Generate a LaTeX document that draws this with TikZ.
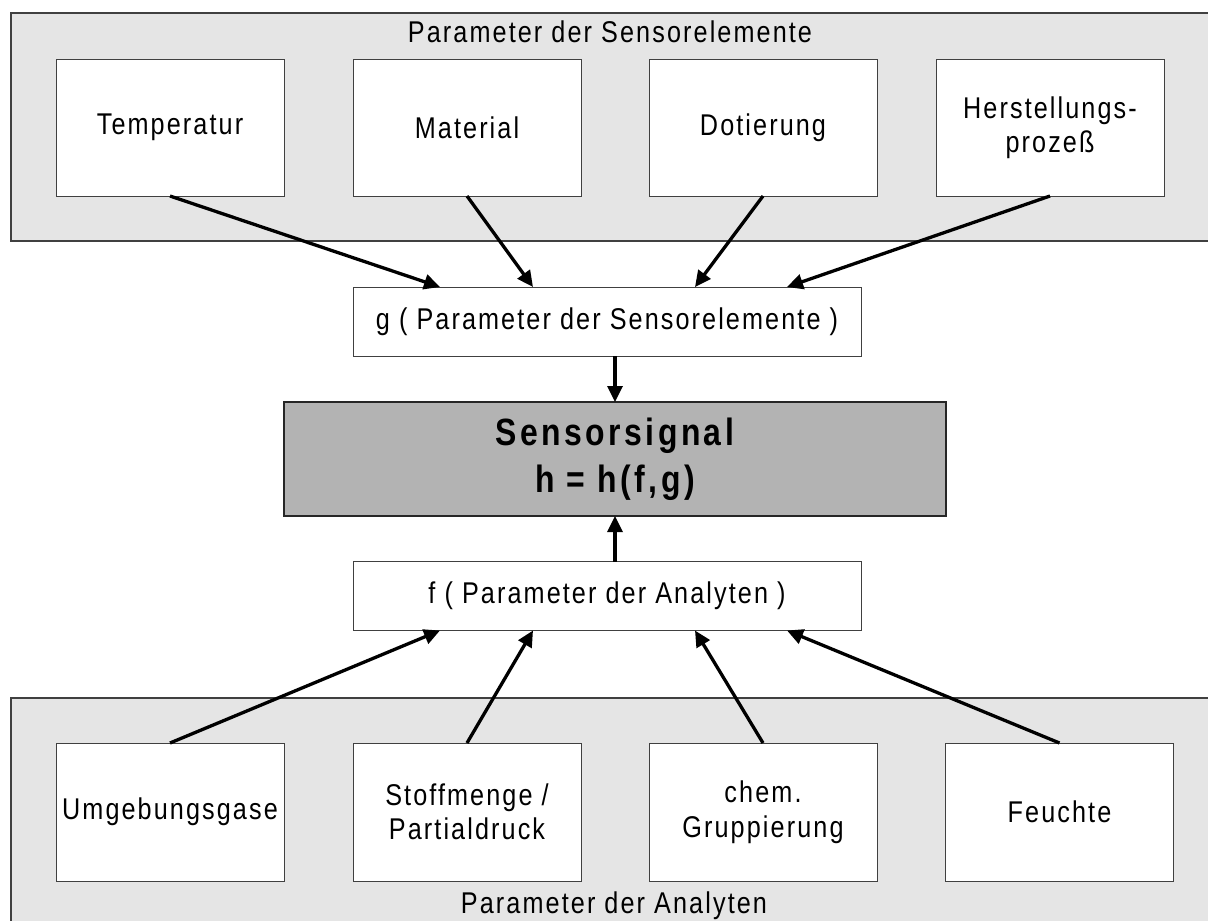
\documentclass[tikz,border=0pt]{standalone}
\usepackage{fontspec}
\setmainfont{Liberation Sans}[FakeStretch=0.84,LetterSpace=7]
\usetikzlibrary{arrows.meta,calc}
\definecolor{panelgray}{HTML}{E5E5E5}
\definecolor{siggray}{HTML}{B3B3B3}
\definecolor{edgegray}{HTML}{404040}
\tikzset{
  panelfill/.style={fill=panelgray},
  paneledge/.style={draw=edgegray, line width=1.2pt},
  txt/.style={font=\fontsize{30}{34.5}\selectfont},
  pbox/.style={txt, draw=edgegray, line width=1pt, fill=white, minimum width=228pt,
    minimum height=137pt, inner sep=0pt, outer sep=0pt, align=center},
  fgbox/.style={txt, draw=edgegray, line width=1pt, fill=white, minimum width=508pt,
    minimum height=69pt, inner sep=0pt, outer sep=0pt},
  sigbox/.style={draw=black!85, line width=1.2pt, fill=siggray, minimum width=662pt,
    minimum height=114pt, inner sep=0pt, outer sep=0pt, align=center,
    font=\fontsize{38}{47}\selectfont\bfseries\addfontfeatures{LetterSpace=9}},
  ptitle/.style={txt, inner sep=0pt, anchor=base},
  arr/.style={line width=3.3pt, -{Triangle[length=16pt,width=15pt]}},
}
\begin{document}
\begin{tikzpicture}[x=1pt,y=-1pt]
\useasboundingbox (0,0) rectangle (1208,921);
% panels
\fill[panelfill] (11,13) rectangle (1208,241);
\draw[paneledge] (1208,13) -- (11,13) -- (11,241) -- (1208,241);
\fill[panelfill] (11,698) rectangle (1208,921);
\draw[paneledge] (1208,698) -- (11,698) -- (11,921);
\node[ptitle] (ttop) at (610,42) {Parameter der Sensorelemente};
\node[ptitle] (tbot) at (614,913) {Parameter der Analyten};
% top boxes
\node[pbox] (temp) at (170,127.5) {Temperatur};
\node[pbox] (mat) at (467,127.5) {Material};
\node[pbox] (dot) at (763,127.5) {Dotierung};
\node[pbox] (her) at (1050,127.5) {Herstellungs-\\prozeß};
% middle
\node[fgbox] (g) at (607,321.5) {g ( Parameter der Sensorelemente )};
\node[sigbox] (sig) at (615,459) {Sensorsignal\\h = h(f,g)};
\node[fgbox] (f) at (607,596) {f ( Parameter der Analyten )};
% bottom boxes
\node[pbox, minimum height=138pt] (umg) at (170,812) {Umgebungsgase};
\node[pbox, minimum height=138pt] (stoff) at (467,812) {Stoffmenge /\\Partialdruck};
\node[pbox, minimum height=138pt] (chem) at (763,812) {chem.\\Gruppierung};
\node[pbox, minimum height=138pt] (feu) at (1059.5,812) {Feuchte};
% arrows
\draw[arr] (temp.south) -- ($(g.north west)+(87,0)$);
\draw[arr] (mat.south) -- ($(g.north west)+(180,0)$);
\draw[arr] (dot.south) -- ($(g.north west)+(342,0)$);
\draw[arr] (her.south) -- ($(g.north west)+(434,0)$);
\draw[arr] ($(g.south west)+(262,0)$) -- (sig.north);
\draw[arr] ($(f.north west)+(262,0)$) -- (sig.south);
\draw[arr] (umg.north) -- ($(f.south west)+(87,0)$);
\draw[arr] (stoff.north) -- ($(f.south west)+(180,0)$);
\draw[arr] (chem.north) -- ($(f.south west)+(342,0)$);
\draw[arr] (feu.north) -- ($(f.south west)+(434,0)$);
\end{tikzpicture}
\end{document}
